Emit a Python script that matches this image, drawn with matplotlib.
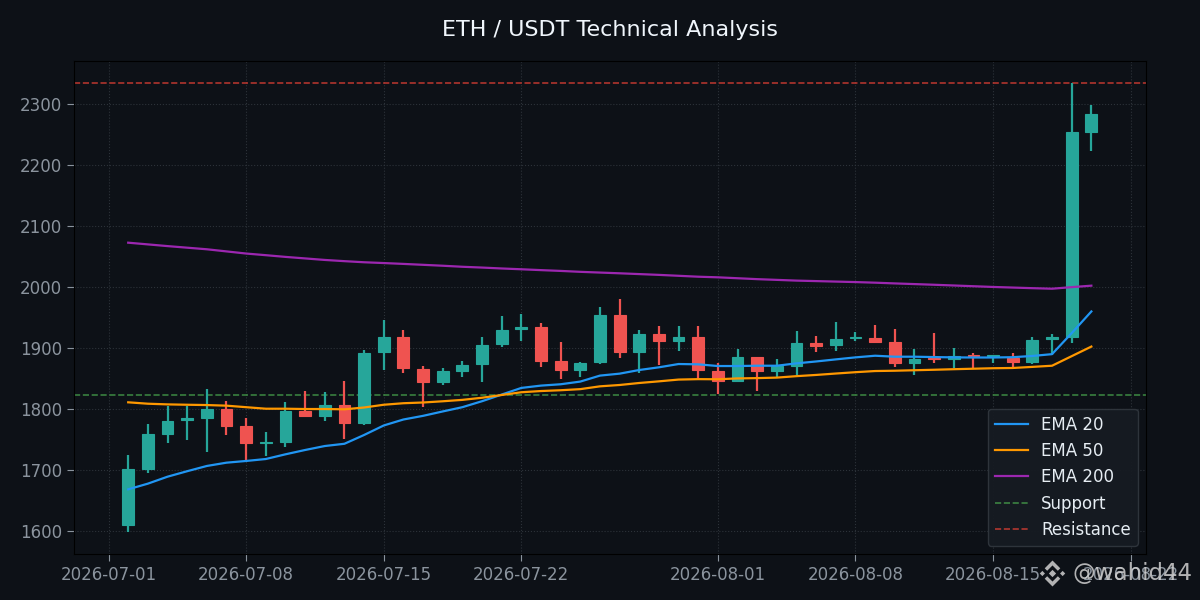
import matplotlib
matplotlib.use("Agg")
import matplotlib.pyplot as plt
import matplotlib.dates as mdates
from matplotlib.patches import Polygon
import numpy as np
import pandas as pd

# ---- data ----
start_date = "2026-07-02"
n_days = 50

opens = [1610.4, 1702.0, 1759.6, 1781.4, 1785.8, 1800.0, 1772.0, 1744.8, 1746.4, 1796.7,
         1789.0, 1806.6, 1777.6, 1892.9, 1918.5, 1866.2, 1843.9, 1863.0, 1873.3, 1906.0,
         1930.5, 1934.9, 1879.3, 1863.5, 1876.6, 1954.5, 1892.9, 1923.4, 1912.0, 1918.6,
         1862.8, 1845.4, 1885.8, 1861.7, 1871.0, 1908.7, 1904.4, 1915.8, 1917.0, 1910.4,
         1874.9, 1883.0, 1881.9, 1887.9, 1886.5, 1883.6, 1876.5, 1914.8, 1918.8, 2254.5]
highs = [1724.6, 1775.4, 1805.0, 1805.0, 1832.8, 1813.0, 1785.0, 1762.0, 1811.5, 1829.5,
         1827.9, 1846.0, 1896.0, 1946.3, 1930.0, 1871.0, 1867.3, 1879.0, 1918.5, 1952.9,
         1956.0, 1941.4, 1910.4, 1877.7, 1967.6, 1980.6, 1930.0, 1936.5, 1936.5, 1936.6,
         1876.0, 1899.0, 1885.8, 1882.5, 1928.4, 1920.2, 1943.0, 1926.8, 1938.0, 1931.7,
         1899.0, 1925.0, 1900.5, 1892.3, 1888.3, 1892.3, 1918.6, 1923.5, 2334.0, 2298.4]
lows = [1599.0, 1695.6, 1744.8, 1749.7, 1730.0, 1758.0, 1716.0, 1723.0, 1738.0, 1787.4,
        1781.0, 1751.0, 1774.3, 1864.6, 1858.6, 1804.0, 1839.0, 1853.0, 1843.9, 1901.0,
        1911.0, 1869.5, 1848.8, 1852.0, 1874.4, 1883.0, 1858.6, 1872.8, 1894.5, 1849.0,
        1824.6, 1845.4, 1830.0, 1853.0, 1856.3, 1892.9, 1895.6, 1912.0, 1909.3, 1868.3,
        1855.0, 1874.8, 1866.6, 1867.7, 1875.9, 1869.3, 1873.2, 1888.5, 1908.0, 2223.0]
closes = [1701.0, 1759.0, 1780.3, 1785.8, 1800.0, 1772.7, 1744.8, 1745.8, 1796.7, 1789.0,
          1806.6, 1777.6, 1891.8, 1918.5, 1866.8, 1843.9, 1862.9, 1872.8, 1905.4, 1930.0,
          1934.9, 1879.3, 1863.5, 1876.0, 1954.5, 1892.9, 1923.4, 1912.0, 1918.5, 1863.4,
          1845.4, 1885.8, 1861.7, 1870.0, 1908.7, 1903.8, 1915.3, 1917.5, 1910.4, 1874.9,
          1882.5, 1881.4, 1887.4, 1886.3, 1887.9, 1876.5, 1913.7, 1918.6, 2254.0, 2283.6]

ema20 = [1668.3, 1677.6, 1689.0, 1698.0, 1706.6, 1712.0, 1714.8, 1718.0, 1725.7, 1732.8,
         1739.3, 1743.0, 1757.4, 1773.0, 1782.8, 1788.8, 1796.0, 1803.0, 1812.8, 1823.7,
         1834.6, 1838.4, 1840.6, 1845.0, 1854.8, 1858.0, 1864.0, 1868.4, 1873.8, 1873.3,
         1870.5, 1870.5, 1871.0, 1871.0, 1874.9, 1878.0, 1881.4, 1884.7, 1887.4, 1885.8,
         1885.8, 1885.2, 1884.7, 1884.5, 1884.5, 1885.0, 1887.0, 1890.0, 1924.5, 1960.0]
ema50 = [1811.0, 1808.7, 1807.6, 1807.0, 1806.5, 1805.5, 1803.0, 1800.5, 1800.5, 1800.0,
         1800.0, 1799.5, 1802.5, 1807.0, 1809.5, 1810.7, 1812.7, 1815.0, 1818.5, 1823.0,
         1827.5, 1829.5, 1830.8, 1832.6, 1837.2, 1839.4, 1842.7, 1845.4, 1848.3, 1849.0,
         1848.8, 1850.2, 1850.7, 1851.5, 1853.9, 1855.9, 1858.2, 1860.4, 1862.3, 1862.8,
         1863.6, 1864.4, 1865.3, 1866.1, 1866.9, 1867.3, 1869.1, 1871.0, 1886.7, 1902.4]
ema200 = [2072.8, 2070.0, 2067.2, 2064.6, 2062.0, 2058.5, 2055.0, 2052.3, 2049.5, 2047.0,
          2044.5, 2042.5, 2040.7, 2039.4, 2038.0, 2036.5, 2035.0, 2033.3, 2032.0, 2030.5,
          2029.2, 2027.8, 2026.5, 2025.0, 2023.8, 2022.6, 2021.3, 2020.0, 2018.5, 2017.0,
          2016.0, 2014.5, 2013.0, 2011.8, 2010.6, 2009.8, 2009.0, 2008.2, 2007.2, 2006.0,
          2004.9, 2003.8, 2002.6, 2001.4, 2000.2, 1999.2, 1998.2, 1997.3, 1999.9, 2002.3]

support_level = 1823.8
resistance_level = 2334.5

title = "ETH / USDT Technical Analysis"
legend_labels = ["EMA 20", "EMA 50", "EMA 200", "Support", "Resistance"]
watermark = "@wahid44"

# ---- style ----
BG = "#0d1117"
UP = "#26a69a"
DOWN = "#ef5350"
TXT = "#8b949e"

dates = pd.date_range(start_date, periods=n_days, freq="D")
x = mdates.date2num(dates.to_pydatetime())
o = np.array(opens); h = np.array(highs); l = np.array(lows); c = np.array(closes)

fig = plt.figure(figsize=(12, 6), dpi=100, facecolor=BG)
ax = fig.add_axes([0.0613, 0.0767, 0.8937, 0.8216])
ax.set_facecolor(BG)

up = c >= o
cols = np.where(up, UP, DOWN)
ax.vlines(x, l, h, colors=cols, linewidth=1.6, zorder=2)
body_bottom = np.minimum(o, c)
body_h = np.abs(c - o)
ax.bar(x, body_h, bottom=body_bottom, width=0.6, color=cols, edgecolor=cols,
       linewidth=0.8, zorder=3)

ax.plot(x, ema20, color="#2196f3", linewidth=1.6, label=legend_labels[0], zorder=4)
ax.plot(x, ema50, color="#ff9800", linewidth=1.6, label=legend_labels[1], zorder=4)
ax.plot(x, ema200, color="#9c27b0", linewidth=1.6, label=legend_labels[2], zorder=4)
ax.axhline(support_level, color="#4caf50", linestyle="--", linewidth=1.2, alpha=0.7,
           label=legend_labels[3], zorder=1)
ax.axhline(resistance_level, color="#f44336", linestyle="--", linewidth=1.2, alpha=0.7,
           label=legend_labels[4], zorder=1)

ax.xaxis.set_major_locator(mdates.DayLocator(bymonthday=[1, 8, 15, 22]))
ax.xaxis.set_major_formatter(mdates.DateFormatter("%Y-%m-%d"))
ax.grid(True, color="#30363d", linestyle=":", linewidth=0.8, alpha=0.9)
ax.set_axisbelow(True)
ax.tick_params(colors=TXT, labelsize=12, length=5)
for s in ax.spines.values():
    s.set_color("black")

ax.set_title(title, color="#f0f6fc", fontsize=16, pad=18)

leg = ax.legend(loc="lower right", fontsize=12, facecolor="#161b22", edgecolor="#30363d",
                framealpha=0.95, labelcolor="#e6edf3")

# watermark
fig.text(0.8935, 0.045, watermark, color="#d0d0d0", alpha=0.85, fontsize=16.5,
         ha="left", va="center")
cx, cy, s = 1052.5, 573.5, 13.0
def P(pts):
    return [((cx + px * s) / 1200.0, 1 - (cy - py * s) / 600.0) for px, py in pts]
shapes = [
    [(0, 0.28), (0.28, 0), (0, -0.28), (-0.28, 0)],
    [(-0.78, 0.2), (-0.58, 0), (-0.78, -0.2), (-0.98, 0)],
    [(0.78, 0.2), (0.98, 0), (0.78, -0.2), (0.58, 0)],
    [(0, 1.0), (0.6, 0.4), (0.41, 0.21), (0, 0.62), (-0.41, 0.21), (-0.6, 0.4)],
    [(0, -1.0), (0.6, -0.4), (0.41, -0.21), (0, -0.62), (-0.41, -0.21), (-0.6, -0.4)],
]
for sh in shapes:
    fig.patches.append(Polygon(P(sh), closed=True, transform=fig.transFigure,
                               facecolor="#d0d0d0", edgecolor="none", alpha=0.85))

fig.savefig("out.png", dpi=100, facecolor=BG)
